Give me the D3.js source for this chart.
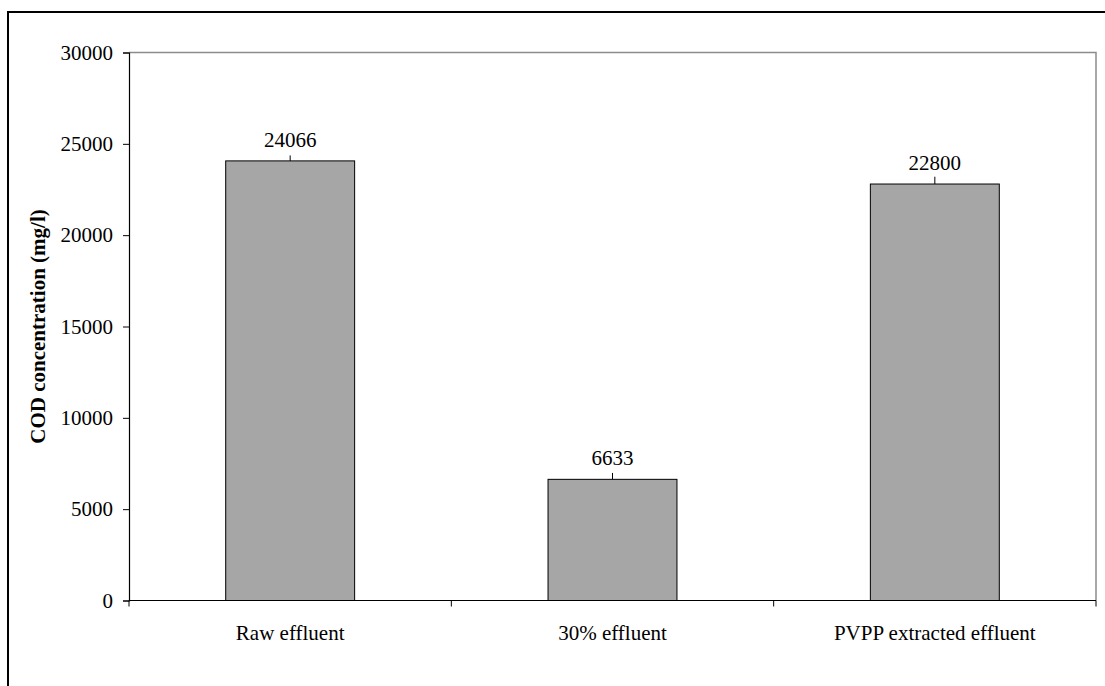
<!DOCTYPE html>
<html>
<head>
<meta charset="utf-8">
<script src="https://cdn.jsdelivr.net/npm/d3@7"></script>
<style>
  html, body { margin: 0; padding: 0; background: #fff; }
  svg { display: block; }
  text { font-family: "Liberation Serif", "Times New Roman", serif; fill: #000; }
</style>
</head>
<body>
<svg id="chart" width="1105" height="686"></svg>
<script>
// COD concentration per effluent type
const categories = ["Raw effluent", "30% effluent", "PVPP extracted effluent"];
const codValues = [24066, 6633, 22800];
const codErrors = [300, 350, 400];
const yTicks = [0, 5000, 10000, 15000, 20000, 25000, 30000];

const svg = d3.select("#chart");
const W = 1105, H = 686;
const FS = 21;

// outer frame (bottom/right run off the canvas)
svg.append("rect")
  .attr("x", 8).attr("y", 12)
  .attr("width", W).attr("height", H)
  .attr("fill", "none").attr("stroke", "#000").attr("stroke-width", 2);

const plot = { left: 129, right: 1096, top: 52.5, bottom: 600.5 };

const x = d3.scaleBand()
  .domain(categories)
  .range([plot.left, plot.right])
  .paddingInner(0).paddingOuter(0);

const y = d3.scaleLinear()
  .domain([0, 30000])
  .range([plot.bottom, plot.top]);

// plot area border (top and right in grey)
svg.append("path")
  .attr("d", `M${plot.left},${plot.top}H${plot.right}V${plot.bottom}`)
  .attr("fill", "none").attr("stroke", "#8c8c8c").attr("stroke-width", 1.5);

// bars
const barW = x.bandwidth() * 0.4;
svg.selectAll("rect.bar")
  .data(codValues)
  .join("rect")
  .attr("class", "bar")
  .attr("x", (d, i) => x(categories[i]) + (x.bandwidth() - barW) / 2)
  .attr("y", d => y(d))
  .attr("width", barW)
  .attr("height", d => y(0) - y(d))
  .attr("fill", "#a6a6a6")
  .attr("stroke", "#000").attr("stroke-width", 1);

// error bars (upper half only)
svg.selectAll("line.err")
  .data(codValues)
  .join("line")
  .attr("class", "err")
  .attr("x1", (d, i) => x(categories[i]) + x.bandwidth() / 2)
  .attr("x2", (d, i) => x(categories[i]) + x.bandwidth() / 2)
  .attr("y1", d => y(d))
  .attr("y2", (d, i) => y(d + codErrors[i]))
  .attr("stroke", "#000").attr("stroke-width", 1);

// value labels
svg.selectAll("text.val")
  .data(codValues)
  .join("text")
  .attr("class", "val")
  .attr("x", (d, i) => x(categories[i]) + x.bandwidth() / 2)
  .attr("y", d => y(d) - 14)
  .attr("text-anchor", "middle")
  .attr("font-size", FS)
  .text(d => d);

// y axis
const yAxis = d3.axisLeft(y).tickValues(yTicks).tickSize(6).tickPadding(10).tickFormat(d3.format("d"));
const gy = svg.append("g").attr("transform", `translate(${plot.left},0)`).call(yAxis);
gy.select(".domain").attr("stroke", "#000").attr("stroke-width", 1.2);
gy.selectAll(".tick line").attr("stroke", "#000");
gy.selectAll(".tick text").attr("font-size", FS).attr("fill", "#000");

// x axis: baseline with ticks at category boundaries
const gx = svg.append("g");
gx.append("line")
  .attr("x1", plot.left).attr("x2", plot.right)
  .attr("y1", y(0)).attr("y2", y(0))
  .attr("stroke", "#000").attr("stroke-width", 1.2);
const bounds = categories.map(c => x(c)).concat([x(categories[categories.length - 1]) + x.bandwidth()]);
gx.selectAll("line.xt")
  .data(bounds)
  .join("line")
  .attr("class", "xt")
  .attr("x1", d => d).attr("x2", d => d)
  .attr("y1", y(0)).attr("y2", y(0) + 6)
  .attr("stroke", "#000").attr("stroke-width", 1);
gx.selectAll("text.cat")
  .data(categories)
  .join("text")
  .attr("class", "cat")
  .attr("x", d => x(d) + x.bandwidth() / 2)
  .attr("y", 640)
  .attr("text-anchor", "middle")
  .attr("font-size", FS)
  .text(d => d);

// y axis title
svg.append("text")
  .attr("transform", `translate(45,${(plot.top + plot.bottom) / 2}) rotate(-90)`)
  .attr("text-anchor", "middle")
  .attr("font-size", FS)
  .attr("font-weight", "bold")
  .text("COD concentration (mg/l)");
</script>
</body>
</html>
